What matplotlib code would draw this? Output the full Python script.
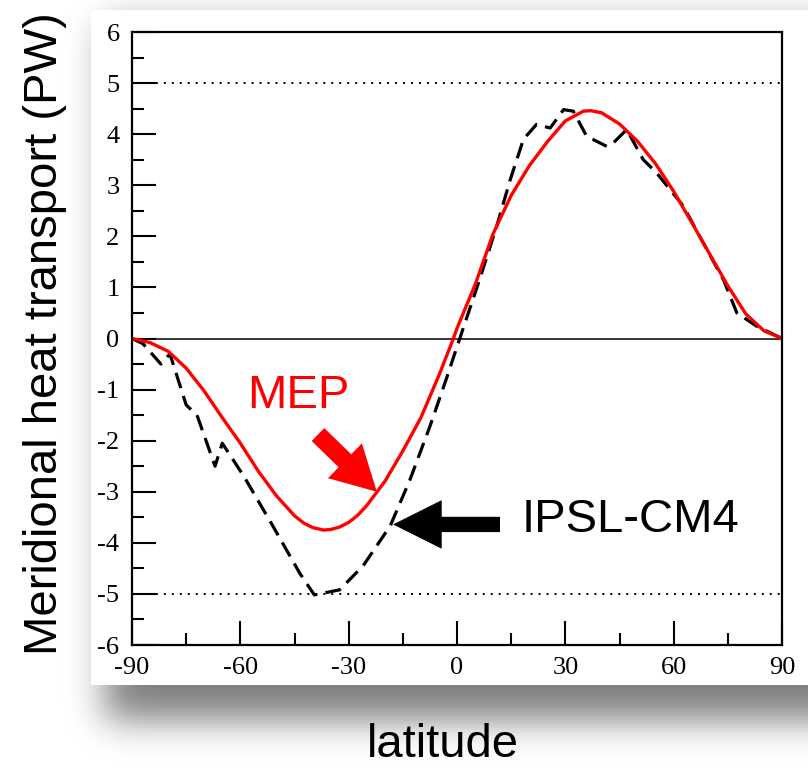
import numpy as np
import matplotlib.pyplot as plt

# MEP (red, solid)
lat_mep = [-90, -85, -80, -75, -70, -65, -60, -55, -50, -45, -42.5, -40, -37, -35, -32.5,
           -30, -27.5, -25, -20, -15, -10, -5, -1, 0, 5, 10, 15, 20, 25, 30, 35, 37, 40, 45,
           50, 55, 60, 65, 70, 75, 80, 85, 90]
mep = [0, -0.08, -0.25, -0.58, -1.03, -1.55, -2.05, -2.6, -3.08, -3.47, -3.61, -3.7, -3.75,
       -3.74, -3.69, -3.6, -3.46, -3.27, -2.8, -2.2, -1.55, -0.72, 0.0, 0.2, 1.05, 2.05,
       2.8, 3.38, 3.85, 4.26, 4.45, 4.46, 4.42, 4.2, 3.86, 3.42, 2.88, 2.27, 1.65, 1.03,
       0.48, 0.15, 0]

# IPSL-CM4 (black, dashed)
lat_ipsl = [-90, -87, -82, -79.5, -75, -72, -67, -65, -59, -51, -43.5, -39.5, -32.5, -26,
            -18.5, -13, -7.5, -3, 1, 6, 11, 14.7, 18.4, 22, 25.8, 29.5, 32.2, 35.9, 41.5,
            43.3, 47, 51.6, 55.3, 62.7, 68.2, 73.8, 77.5, 83, 90]
ipsl = [0, -0.1, -0.5, -0.3, -1.3, -1.5, -2.5, -2.05, -2.7, -3.67, -4.6, -5.02, -4.92,
        -4.45, -3.67, -2.76, -1.72, -0.8, 0.05, 1.1, 2.2, 3.1, 3.9, 4.19, 4.12, 4.48, 4.45,
        3.96, 3.76, 3.83, 4.09, 3.5, 3.24, 2.59, 1.87, 1.15, 0.5, 0.24, 0]

x_ticks = [-90, -60, -30, 0, 30, 60, 90]
y_ticks = list(range(-6, 7))

W, H = 808, 771
fig = plt.figure(figsize=(W / 100, H / 100), dpi=100)


# soft drop shadow behind a white panel
def blur(a, s):
    k = np.exp(-0.5 * (np.arange(-3 * s, 3 * s + 1) / s) ** 2)
    k /= k.sum()
    f = lambda r: np.convolve(np.pad(r, 3 * s, mode='edge'), k, mode='valid')
    a = np.apply_along_axis(f, 0, a)
    return np.apply_along_axis(f, 1, a)


mask = np.zeros((H, W))
mask[25:720, 105:] = 1
img = 1 - 0.5 * blur(mask, 18)
img[10:685, 91:] = 1
bg = fig.add_axes([0, 0, 1, 1])
bg.imshow(img, cmap='gray', vmin=0, vmax=1, extent=[0, W, H, 0], aspect='auto',
          interpolation='nearest')
bg.axis('off')

ax = fig.add_axes([132 / W, 1 - 645 / H, 650 / W, 613 / H])
ax.set_facecolor('none')

ax.axhline(0, color='black', lw=1.1)
ax.axhline(5, color='black', lw=1.4, ls=(0, (1, 3.1)))
ax.axhline(-5, color='black', lw=1.4, ls=(0, (1, 3.1)))

ax.plot(lat_ipsl, ipsl, color='black', lw=2.3, ls=(0, (5, 2.6)))
ax.plot(lat_mep, mep, color='#ff0000', lw=2.4)

# annotations
ax.text(-44, -1.12, 'MEP', color='#ff0000', fontsize=34, family='Liberation Sans',
        ha='center', va='center')
ax.annotate('', xy=(-22.2, -3.0), xytext=(-38.5, -1.88),
            arrowprops=dict(arrowstyle='simple,head_length=32,head_width=35,tail_width=13',
                            color='#ff0000', mutation_scale=1, shrinkA=0, shrinkB=0, lw=0))
ax.text(18, -3.55, 'IPSL-CM4', color='black', fontsize=34, family='Liberation Sans',
        ha='left', va='center')
ax.annotate('', xy=(-17.7, -3.64), xytext=(11.9, -3.64),
            arrowprops=dict(arrowstyle='simple,head_length=35,head_width=35,tail_width=11',
                            color='black', mutation_scale=1, shrinkA=0, shrinkB=0, lw=0))

ax.set_xlim(-90, 90)
ax.set_ylim(-6, 6)
ax.set_xticks(x_ticks)
ax.set_xticklabels([str(t) for t in x_ticks], family='Liberation Serif', fontsize=19)
ax.set_yticks(y_ticks)
ax.set_yticklabels([str(t) for t in y_ticks], family='Liberation Serif', fontsize=19)
ax.set_xticks(np.arange(-75, 90, 30), minor=True)
ax.set_yticks(np.arange(-5.5, 6, 1), minor=True)
ax.tick_params(which='both', direction='in', top=False, right=False, width=1.5, pad=9)
ax.tick_params(which='major', length=17)
ax.tick_params(which='minor', length=8.5)
for s in ax.spines.values():
    s.set_linewidth(1.6)

fig.text(443 / W, 1 - 745 / H, 'latitude', fontsize=34, family='Liberation Sans',
         ha='center', va='center')
fig.text(45 / W, 1 - 334 / H, 'Meridional heat transport (PW)', fontsize=34,
         family='Liberation Sans', rotation=90, ha='center', va='center')

plt.savefig('out.png', dpi=100)
plt.close()
